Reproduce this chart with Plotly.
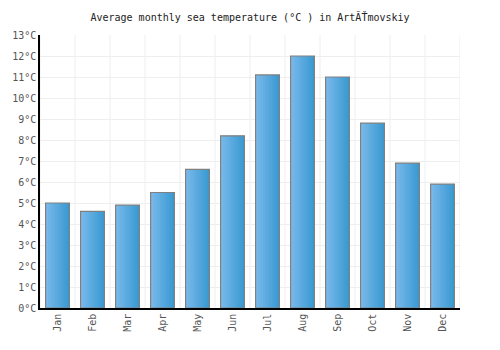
import plotly.graph_objects as go

months = ["Jan", "Feb", "Mar", "Apr", "May", "Jun", "Jul", "Aug", "Sep", "Oct", "Nov", "Dec"]
temps = [5.0, 4.6, 4.9, 5.5, 6.6, 8.2, 11.1, 12.0, 11.0, 8.8, 6.9, 5.9]

title = "Average monthly sea temperature (°C ) in ArtĂŤmovskiy"
font = "DejaVu Sans Mono, monospace"

fig = go.Figure()

bar_w = 0.68
n = 10
step = bar_w / n
left = (120, 184, 234)
right = (58, 154, 210)
for i in range(n):
    t = i / (n - 1)
    c = tuple(round(left[k] + (right[k] - left[k]) * t) for k in range(3))
    w = step * 1.6 if i < n - 1 else step
    fig.add_trace(go.Bar(
        x=months, y=temps,
        width=w, offset=-bar_w / 2 + i * step,
        marker=dict(color="rgb(%d,%d,%d)" % c, line=dict(width=0)),
        hoverinfo="skip", showlegend=False,
    ))
fig.add_trace(go.Bar(
    x=months, y=temps, width=bar_w, offset=-bar_w / 2,
    marker=dict(color="rgba(0,0,0,0)", line=dict(color="#808080", width=1.2)),
    showlegend=False,
))

fig.update_layout(
    barmode="overlay",
    width=500, height=350,
    margin=dict(l=40, r=40, t=35, b=42),
    paper_bgcolor="white", plot_bgcolor="white",
    title=dict(text=title, x=0.5, xanchor="center", y=0.95, yanchor="middle",
               font=dict(family=font, size=10, color="#222")),
    font=dict(family=font, size=10, color="#555"),
)
fig.update_xaxes(
    tickangle=-90, showgrid=False,
    showline=True, linecolor="black", linewidth=1.5,
    ticks="", tickfont=dict(size=10, color="#555"),
    range=[-0.5, 11.5],
)
fig.update_yaxes(
    range=[0, 13], dtick=1, ticksuffix="°C",
    showgrid=True, gridcolor="#eeeeee",
    showline=True, linecolor="black", linewidth=1.5,
    ticks="", zeroline=False, tickfont=dict(size=10, color="#555"),
)

# vertical gridlines at category boundaries
for i in range(len(months) + 1):
    fig.add_vline(x=i - 0.5, line=dict(color="#eeeeee", width=1), layer="below")

fig.write_html("out.html")
